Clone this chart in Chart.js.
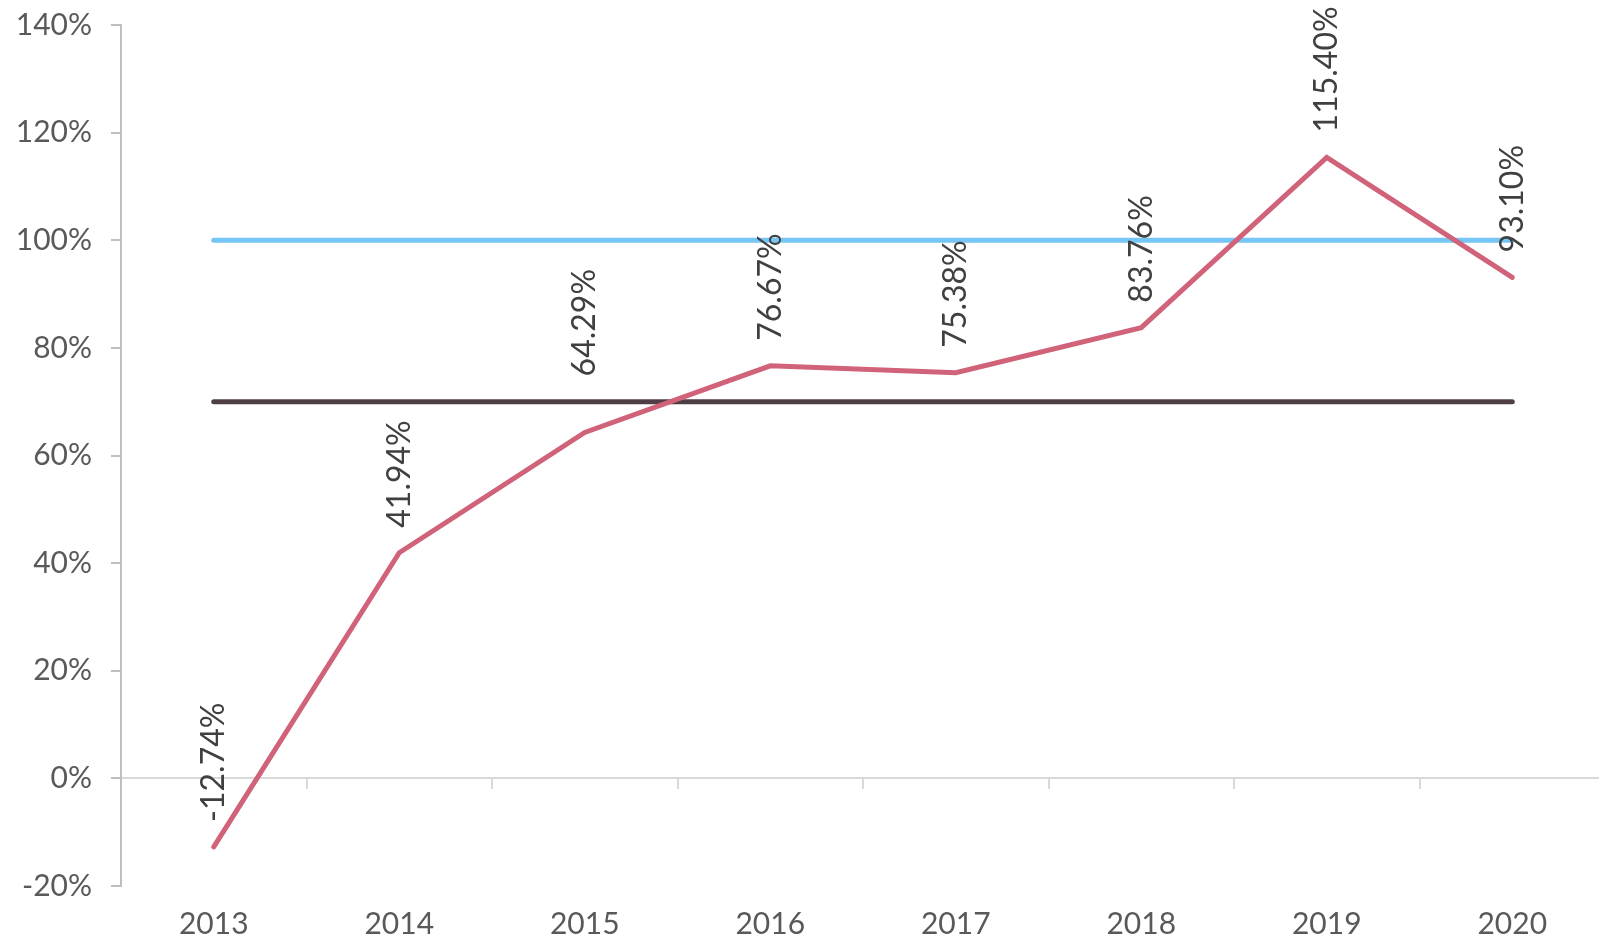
<!DOCTYPE html>
<html>
<head>
<meta charset="utf-8">
<script src="https://cdn.jsdelivr.net/npm/chart.js@4"></script>
<style>
  html, body { margin: 0; padding: 0; background: #fff; overflow: hidden; }
  /* the plot runs a few pixels past the right edge, as in the original */
  #wrap { width: 1605px; height: 939px; }
</style>
</head>
<body>
<div id="wrap"><canvas id="chart"></canvas></div>
<script>
// values
const years = ['2013', '2014', '2015', '2016', '2017', '2018', '2019', '2020'];
const ratio = [-12.74, 41.94, 64.29, 76.67, 75.38, 83.76, 115.40, 93.10];
const upperLine = [100, 100, 100, 100, 100, 100, 100, 100];
const lowerLine = [70, 70, 70, 70, 70, 70, 70, 70];
const yTicks = [-20, 0, 20, 40, 60, 80, 100, 120, 140];

const FONT = 'Lato, "Open Sans", sans-serif';

// rotated value labels above the pink line
// (the 2015 one sits higher so it clears the dark line)
const valueLabels = {
    id: 'valueLabels',
    afterDatasetsDraw(chart) {
        const ctx = chart.ctx;
        const meta = chart.getDatasetMeta(0);
        ctx.save();
        ctx.fillStyle = '#404040';
        ctx.font = '32px ' + FONT;
        ctx.textAlign = 'left';
        ctx.textBaseline = 'middle';
        meta.data.forEach((pt, i) => {
            const lift = i === 2 ? 56 : 25;
            ctx.save();
            ctx.translate(pt.x, pt.y - lift);
            ctx.rotate(-Math.PI / 2);
            ctx.fillText(ratio[i].toFixed(2) + '%', 0, 0);
            ctx.restore();
        });
        ctx.restore();
    }
};

new Chart(document.getElementById('chart'), {
    type: 'line',
    data: {
        labels: years,
        datasets: [
            {
                data: ratio,
                borderColor: '#D0637A',
                borderWidth: 5,
                borderCapStyle: 'round',
                pointRadius: 0,
                order: 0
            },
            {
                data: upperLine,
                borderColor: '#75C6F5',
                borderWidth: 5,
                borderCapStyle: 'round',
                pointRadius: 0,
                order: 1
            },
            {
                data: lowerLine,
                borderColor: '#4F3E45',
                borderWidth: 5,
                borderCapStyle: 'round',
                pointRadius: 0,
                order: 2
            }
        ]
    },
    options: {
        responsive: true,
        maintainAspectRatio: false,
        animation: false,
        layout: { padding: { top: 25, right: 0, bottom: 0, left: 0 } },
        plugins: {
            legend: { display: false },
            tooltip: { enabled: false }
        },
        scales: {
            x: {
                position: 'bottom',
                offset: true,
                grid: { display: false, drawTicks: false },
                border: { display: false },
                ticks: {
                    color: '#595959',
                    font: { family: FONT, size: 30 },
                    padding: 20,
                    maxRotation: 0
                },
                afterFit: s => { s.height = 53; }
            },
            // zero line with the small category ticks under it
            x0: {
                type: 'category',
                position: { y: 0 },
                offset: true,
                grid: {
                    offset: true,
                    drawOnChartArea: false,
                    drawTicks: true,
                    tickLength: 10,
                    color: '#d9d9d9',
                    lineWidth: 2
                },
                border: { display: true, color: '#d9d9d9', width: 2 },
                ticks: { display: false },
                afterFit: s => { s.height = 0; }
            },
            y: {
                min: -20,
                max: 140,
                afterBuildTicks: s => { s.ticks = yTicks.map(v => ({ value: v })); },
                grid: {
                    drawOnChartArea: false,
                    drawTicks: true,
                    tickLength: 10,
                    color: '#bfbfbf',
                    lineWidth: 2
                },
                border: { display: true, color: '#bfbfbf', width: 2 },
                ticks: {
                    color: '#595959',
                    font: { family: FONT, size: 30 },
                    padding: 19,
                    callback: v => v + '%'
                },
                afterFit: s => {
                    s.width = 121;
                    s.paddingTop = 0;
                    s.paddingBottom = 0;
                }
            }
        }
    },
    plugins: [valueLabels]
});
</script>
</body>
</html>
